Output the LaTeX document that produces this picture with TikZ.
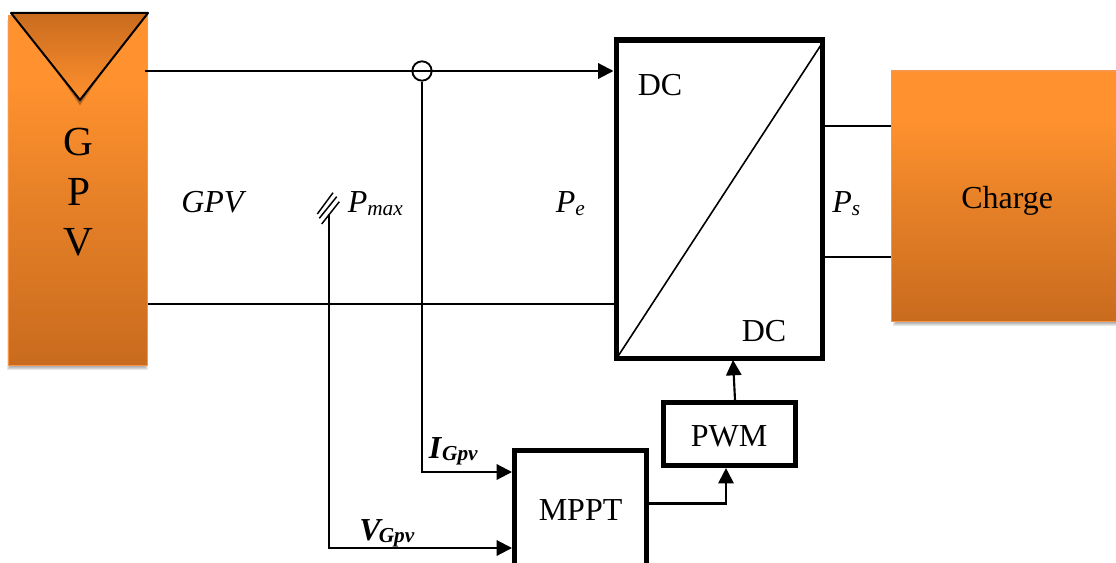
\documentclass[tikz,border=0pt]{standalone}
\usepackage{fontspec}
\setmainfont{Liberation Serif}
\usetikzlibrary{arrows.meta,calc}
\definecolor{orangehi}{HTML}{FF912E}
\definecolor{orangemid}{HTML}{E88228}
\definecolor{orangelo}{HTML}{C96B1E}
\definecolor{orangeedge}{HTML}{F79646}
\pgfdeclareverticalshading{orangedown}{100bp}{color(0bp)=(orangelo); color(25bp)=(orangelo); color(50bp)=(orangemid); color(65bp)=(orangehi); color(75bp)=(orangehi); color(100bp)=(orangehi)}
\pgfdeclareverticalshading{orangeup}{100bp}{color(0bp)=(orangehi); color(25bp)=(orangehi); color(75bp)=(orangelo); color(100bp)=(orangelo)}
\newcommand{\txtsize}[1]{\fontsize{#1}{#1}\selectfont}
\newcommand{\subtxt}[1]{\raisebox{-1.8pt}{\txtsize{16}#1}}
\tikzset{
  x=0.75pt,y=-0.75pt,
  wire/.style={line width=1.6pt,draw=black},
  thinwire/.style={line width=1.2pt,draw=black},
  flow/.style={wire,-{Triangle[length=11.5pt,width=11.5pt]}},
  thickbox/.style={draw=black,fill=white,line width=3.8pt,inner sep=0pt,text=black},
  orangebox/.style={shading=orangedown,draw=orangeedge,line width=1pt,inner sep=0pt},
  label24/.style={inner sep=0pt,anchor=base west,font=\txtsize{24}},
  shadowlayer/.style={fill=black,fill opacity=0.09,draw=none},
}
\begin{document}
\begin{tikzpicture}
\useasboundingbox (0,0) rectangle (1116,563);
\clip (0,0) rectangle (1116,563);
% shadows
\foreach \e in {0,1,2,3}{
  \path[shadowlayer] (7+\e,20+\e) rectangle (148-\e,370-\e);
  \path[shadowlayer] (893+\e,75+\e) rectangle (1120,326-\e);
}
% source and load
\node[orangebox,minimum width=139pt*0.75,minimum height=349pt*0.75,anchor=north west] (gpv) at (7.5,15.5) {};
\node[orangebox,minimum width=230pt*0.75,minimum height=250pt*0.75,anchor=north west] (charge) at (890.5,70.5) {};
% triangle with its shadow
\foreach \e in {1,2,3}{
  \path[fill=black,fill opacity=0.12] (18+\e,17) -- (141-\e,17) -- (80,107-\e) -- cycle;
}
\path[shading=orangeup,shading angle=0] (11,13) -- (148,13) -- (80,100) -- cycle;
\draw[line width=1.5pt,line join=round] (11,13) -- (148,13) -- (80,100) -- cycle;
% blocks
\node[thickbox,minimum width=206pt*0.75,minimum height=318pt*0.75,anchor=north west] (conv) at (613.5,37.5) {};
\node[thickbox,minimum width=132pt*0.75,minimum height=63pt*0.75,anchor=north west] (pwm) at (661,400) {};
\node[thickbox,minimum width=132pt*0.75,minimum height=127pt*0.75,anchor=north west] (mppt) at (512,448) {};
% connector points
\coordinate (topstart) at (145,71);
\coordinate (botstart) at (148,304);
\node[draw=black,line width=1.4pt,circle,minimum size=14.5pt,inner sep=0pt] (junction) at (422,71) {};
\coordinate (icorner) at (422,472);
\coordinate (vtop) at (329,214);
\coordinate (vcorner) at (329,548);
\coordinate (pwmin) at (726,503.5);
\coordinate (ctltail) at (735,400);
\coordinate (ctlhead) at (733,360);
\coordinate (diagend) at ($(conv.north east)+(0,2)$);
\coordinate (diagstart) at ($(conv.south west)+(3,-2)$);
\coordinate (loadtop) at (0,126);
\coordinate (loadbot) at (0,257);
% connectors
\draw[flow] (topstart) -- (conv.west |- topstart);
\draw[flow] (junction.south) |- (mppt.west |- icorner);
\draw[flow] (vtop) |- (mppt.west |- vcorner);
\draw[thinwire] (botstart) -- (conv.west |- botstart);
\draw[flow] (mppt.east |- pwmin) -| (pwm.south -| pwmin);
\draw[flow] (ctltail) -- (ctlhead);
\draw[thinwire] (diagstart) -- (diagend);
\draw[thinwire] (conv.east |- loadtop) -- (charge.west |- loadtop);
\draw[thinwire] (conv.east |- loadbot) -- (charge.west |- loadbot);
% bus slashes
\draw[line width=1.1pt] (317.3,214) -- (333,192.7);
\draw[line width=1.1pt] (319.3,218.3) -- (336.7,196.7);
\draw[line width=1.1pt] (321.7,224) -- (339.3,201.7);
% texts
\node[inner sep=0pt,anchor=base,font=\txtsize{31}] (letterg) at (78.5,156) {G};
\node[inner sep=0pt,anchor=base,font=\txtsize{31}] (letterp) at (78.5,205) {P};
\node[inner sep=0pt,anchor=base,font=\txtsize{31}] (letterv) at (78.5,255) {V};
\node[label24] (chargetxt) at (961,208) {Charge};
\node[label24] (dctop) at (637.5,96) {DC};
\node[label24] (dcbot) at (741.5,341) {DC};
\node[label24] (pwmtxt) at (690.5,446) {PWM};
\node[label24] (mppttxt) at (538.5,520) {MPPT};
\node[label24] (gpvtxt) at (181,212.7) {\textit{GPV}};
\node[label24] (pmaxtxt) at (347.5,212.7) {\textit{P}\subtxt{\textit{max}}};
\node[label24] (petxt) at (555.5,212.7) {\textit{P}\subtxt{\textit{e}}};
\node[label24] (pstxt) at (832,212.7) {\textit{P}\subtxt{\textit{s}}};
\node[label24] (igpv) at (428.5,458) {\textbf{\textit{I}}\subtxt{\textbf{\textit{Gpv}}}};
\node[label24] (vgpv) at (359,540) {\textbf{\textit{V}}\kern-3pt\subtxt{\textbf{\textit{Gpv}}}};
\end{tikzpicture}
\end{document}
